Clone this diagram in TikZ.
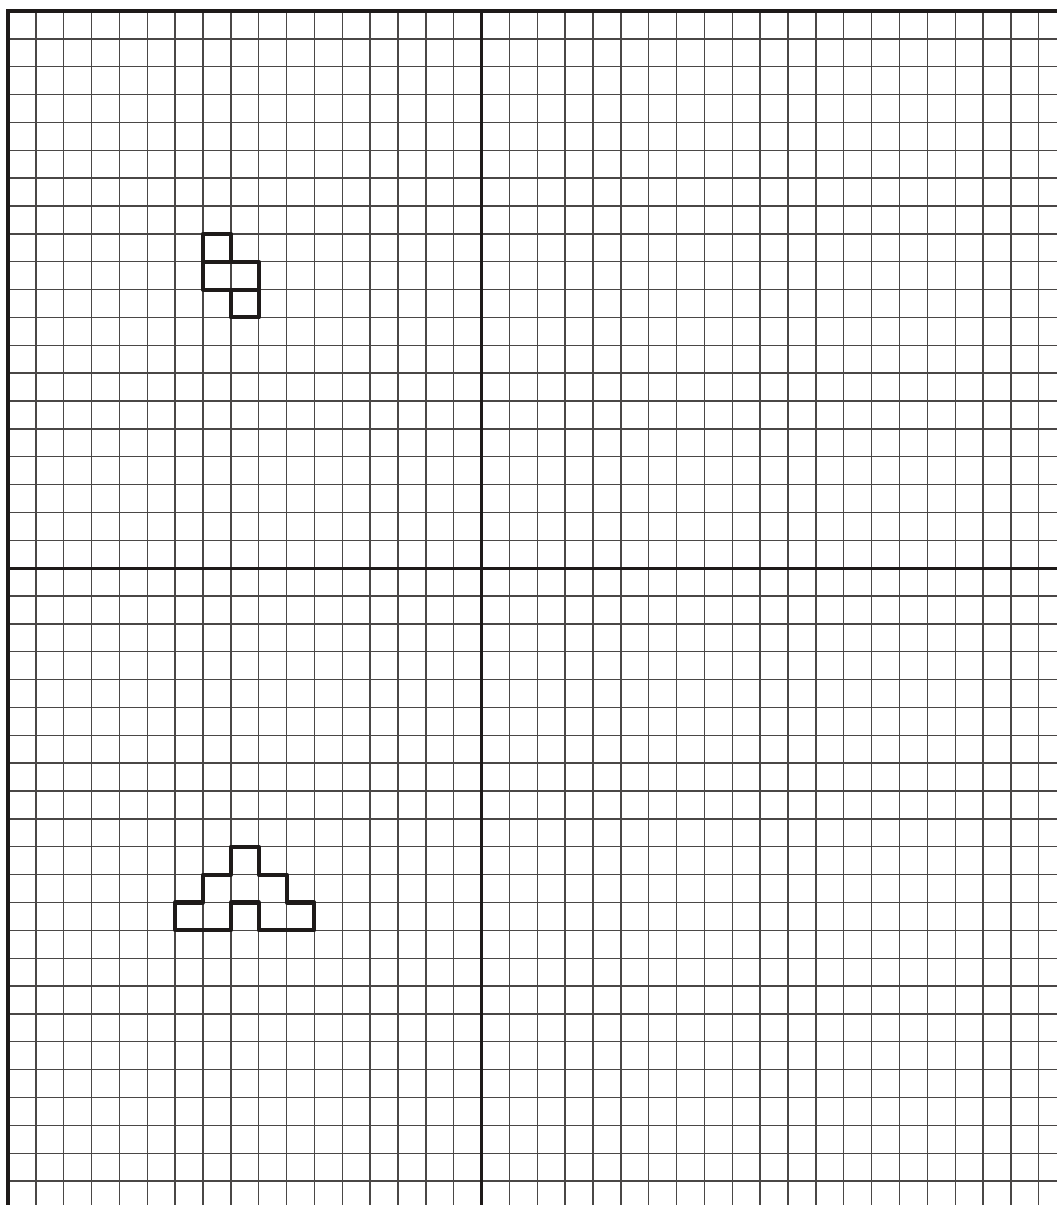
\documentclass[tikz,border=0pt]{standalone}
\usetikzlibrary{positioning}
\definecolor{gridgray}{HTML}{4A4746}
\definecolor{inkblack}{HTML}{1E1A19}

\tikzset{
  thinline/.style={gridgray, line width=0.7pt},
  axisline/.style={inkblack, line width=1.7pt},
  figline/.style={inkblack, line width=2.1pt, line join=round},
}

\begin{document}
\begin{tikzpicture}[x=0.5cm, y=-0.5cm]

% Dimensions
% One cell = 1 unit, origin at the top-left corner of the grid
% 17 columns to the middle line, 20 rows to the middle line
% Grid runs past the right and bottom edges of the page

\pgfmathsetmacro{\midx}{17}   % middle vertical line
\pgfmathsetmacro{\midy}{20}   % middle horizontal line
\pgfmathsetmacro{\gridw}{38}  % grid width (clipped)
\pgfmathsetmacro{\gridh}{43}  % grid height (clipped)

% Page frame
\useasboundingbox (-0.287,-0.395) rectangle (37.65,42.86);
\clip (-0.287,-0.395) rectangle (37.65,42.86);

% --- Thin grid ---
\foreach \i in {1,...,38}
  \draw[thinline] (\i,0) -- (\i,\gridh);
\foreach \j in {1,...,43}
  \draw[thinline] (0,\j) -- (\gridw,\j);

% --- Outer border (top and left) ---
\draw[axisline] (0,\gridh) -- (0,0) -- (\gridw,0);

% --- Middle lines ---
\draw[axisline] (\midx,0) -- (\midx,\gridh);
\draw[axisline] (0,\midy) -- (\gridw,\midy);

% --- Upper figure: three stacked boxes ---
\draw[figline] (7,8) rectangle (8,9);
\draw[figline] (7,9) rectangle (9,10);
\draw[figline] (8,10) rectangle (9,11);

% --- Lower figure: stepped pyramid with a notch ---
\draw[figline]
  (8,33) -- (6,33) -- (6,32) -- (7,32) -- (7,31) -- (8,31) -- (8,30)
  -- (9,30) -- (9,31) -- (10,31) -- (10,32) -- (11,32) -- (11,33)
  -- (9,33) -- (9,32) -- (8,32) -- cycle;

\end{tikzpicture}
\end{document}
